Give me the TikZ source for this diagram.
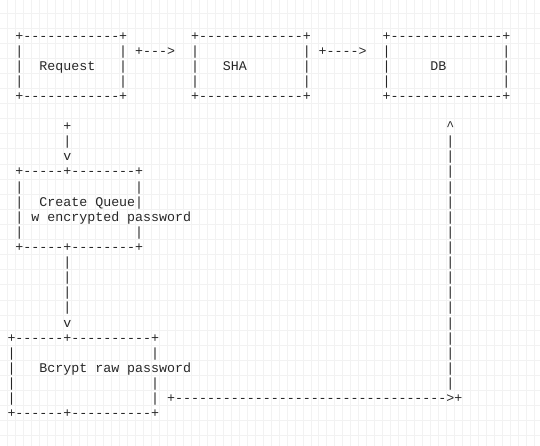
\documentclass[tikz,border=0pt]{standalone}
\usepackage{fontspec}
\setmonofont{Liberation Mono}
\tikzset{
  asc/.style={font=\ttfamily\fontsize{13.3}{15}\selectfont, inner sep=0pt, outer sep=0pt, anchor=base west, text=black!85},
  gridl/.style={draw=black!5, line width=0.5pt}
}
\newcommand\asccw{7.98}
\newcommand\ascxo{11.5}
\newcommand\asclh{15.1}
\newcommand\ascyo{35.5}
\newcommand\asctxt[4]{\node[asc] (#1) at ({\ascxo+(#2-0.5)*\asccw},{\ascyo+#3*\asclh+4.6}) {#4};}
\begin{document}
\begin{tikzpicture}[x=1pt,y=-1pt]
\useasboundingbox (0,0) rectangle (540,446);
\fill[white] (0,0) rectangle (540,446);
% background grid
\foreach \i in {0,...,66} \draw[gridl] ({7.51+\i*7.98},0) -- ({7.51+\i*7.98},446);
\foreach \j in {-1,...,27} \draw[gridl] (0,{27.95+\j*15.1}) -- (540,{27.95+\j*15.1});
% top boxes
\asctxt{reqT}{1}{0}{+------------+}
\asctxt{shaT}{23}{0}{+-------------+}
\asctxt{dbT}{47}{0}{+--------------+}
\asctxt{reqB}{1}{4}{+------------+}
\asctxt{shaB}{23}{4}{+-------------+}
\asctxt{dbB}{47}{4}{+--------------+}
\foreach \r in {1,2,3} {
  \foreach \c/\n in {1/a,14/b,23/c,37/d,47/e,62/f} {
    \asctxt{side\n\r}{\c}{\r}{|}
  }
}
\asctxt{arrA}{16}{1}{+--->}
\asctxt{arrB}{39}{1}{+---->}
\asctxt{request}{4}{2}{Request}
\asctxt{sha}{27}{2}{SHA}
\asctxt{db}{53}{2}{DB}
% arrow from Request down to queue
\asctxt{qStart}{7}{6}{+}
\asctxt{qLine}{7}{7}{|}
\asctxt{qHead}{7}{8}{v}
% right return line
\asctxt{dbHead}{55}{6}{\textasciicircum}
\foreach \r in {7,...,23} { \asctxt{ret\r}{55}{\r}{|} }
% queue box
\asctxt{qT}{1}{9}{+-----+--------+}
\asctxt{qB}{1}{14}{+-----+--------+}
\foreach \r in {10,11,12,13} { \asctxt{qL\r}{1}{\r}{|} }
\foreach \r in {10,13} { \asctxt{qR\r}{16}{\r}{|} }
\asctxt{queueA}{4}{11}{Create Queue|}
\asctxt{queueB}{3}{12}{w encrypted password}
% arrow queue -> bcrypt
\foreach \r in {15,...,18} { \asctxt{bLine\r}{7}{\r}{|} }
\asctxt{bHead}{7}{19}{v}
% bcrypt box
\asctxt{bT}{0}{20}{+------+----------+}
\asctxt{bB}{0}{25}{+------+----------+}
\foreach \r in {21,...,24} { \asctxt{bL\r}{0}{\r}{|} }
\foreach \r in {21,23,24} { \asctxt{bR\r}{18}{\r}{|} }
\asctxt{bcrypt}{4}{22}{Bcrypt raw password}
\asctxt{bOut}{20}{24}{+---------------------------------->+}
\end{tikzpicture}
\end{document}
